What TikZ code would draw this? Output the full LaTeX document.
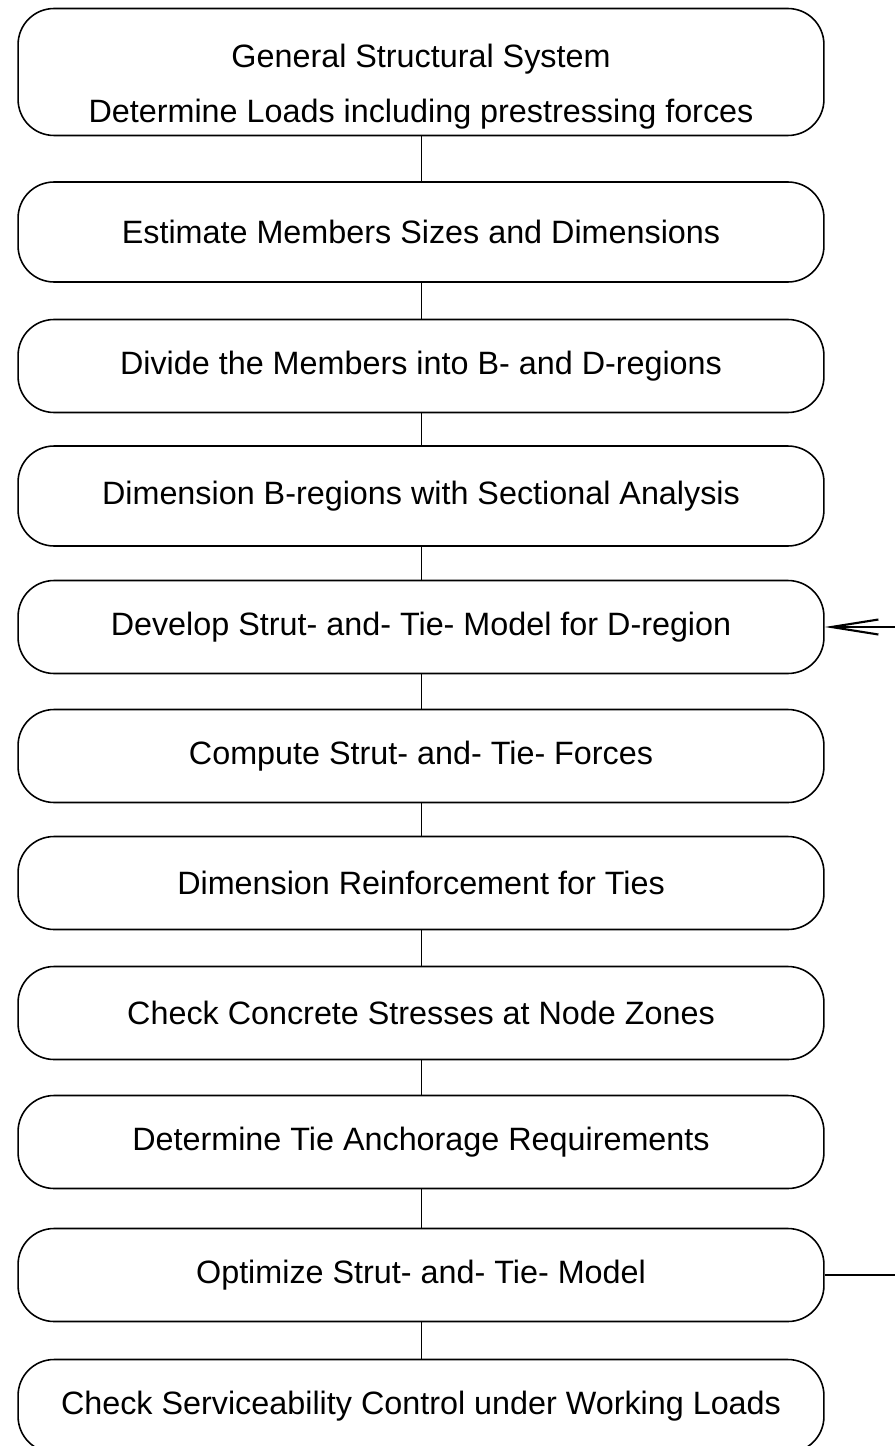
\documentclass[tikz,border=0pt]{standalone}
\usepackage{fontspec}
\setmainfont{Liberation Sans}
\usetikzlibrary{arrows.meta}

\tikzset{
  stepbox/.style={draw, line width=0.9pt, rounded corners=0.72cm,
    minimum width=16.12cm, minimum height=1.86cm, inner sep=0pt,
    align=center, font=\fontsize{18.4}{22}\selectfont},
  link/.style={line width=0.5pt},
  loopback/.style={line width=0.7pt,
    -{Straight Barb[length=0.94cm,width=0.3cm,line width=1.2pt]}}
}

\begin{document}
\begin{tikzpicture}[x=0.02cm,y=-0.02cm]
\useasboundingbox (0,0) rectangle (895,1446);

% the steps, top to bottom
\node[stepbox, minimum height=2.54cm] (gen) at (421,72)
  {\rule{0pt}{30pt}General Structural System\\[9pt]Determine Loads including prestressing forces};
\node[stepbox, minimum height=2.0cm] (est) at (421,232) {Estimate Members Sizes and Dimensions};
\node[stepbox] (div) at (421,366) {Divide the Members into B- and D-regions};
\node[stepbox, minimum height=2.0cm] (bdim) at (421,496) {Dimension B-regions with Sectional Analysis};
\node[stepbox] (dev) at (421,627) {Develop Strut- and- Tie- Model for D-region};
\node[stepbox] (comp) at (421,756) {Compute Strut- and- Tie- Forces};
\node[stepbox] (reinf) at (421,883) {Dimension Reinforcement for Ties};
\node[stepbox] (conc) at (421,1013) {Check Concrete Stresses at Node Zones};
\node[stepbox] (anch) at (421,1142) {Determine Tie Anchorage Requirements};
\node[stepbox] (opt) at (421,1275) {Optimize Strut- and- Tie- Model};
\node[stepbox] (serv) at (421,1406) {Check Serviceability Control under Working Loads};

% chain
\foreach \a/\b in {gen/est, est/div, div/bdim, bdim/dev, dev/comp,
                   comp/reinf, reinf/conc, conc/anch, anch/opt, opt/serv}
  \draw[link] (\a.south) -- (\b.north);

% loop back from optimizing to the model
\coordinate (back1) at (915,1275);
\coordinate (back2) at (915,627);
\draw[loopback] (opt.east) -- (back1) -- (back2) -- (dev.east);
\end{tikzpicture}
\end{document}
